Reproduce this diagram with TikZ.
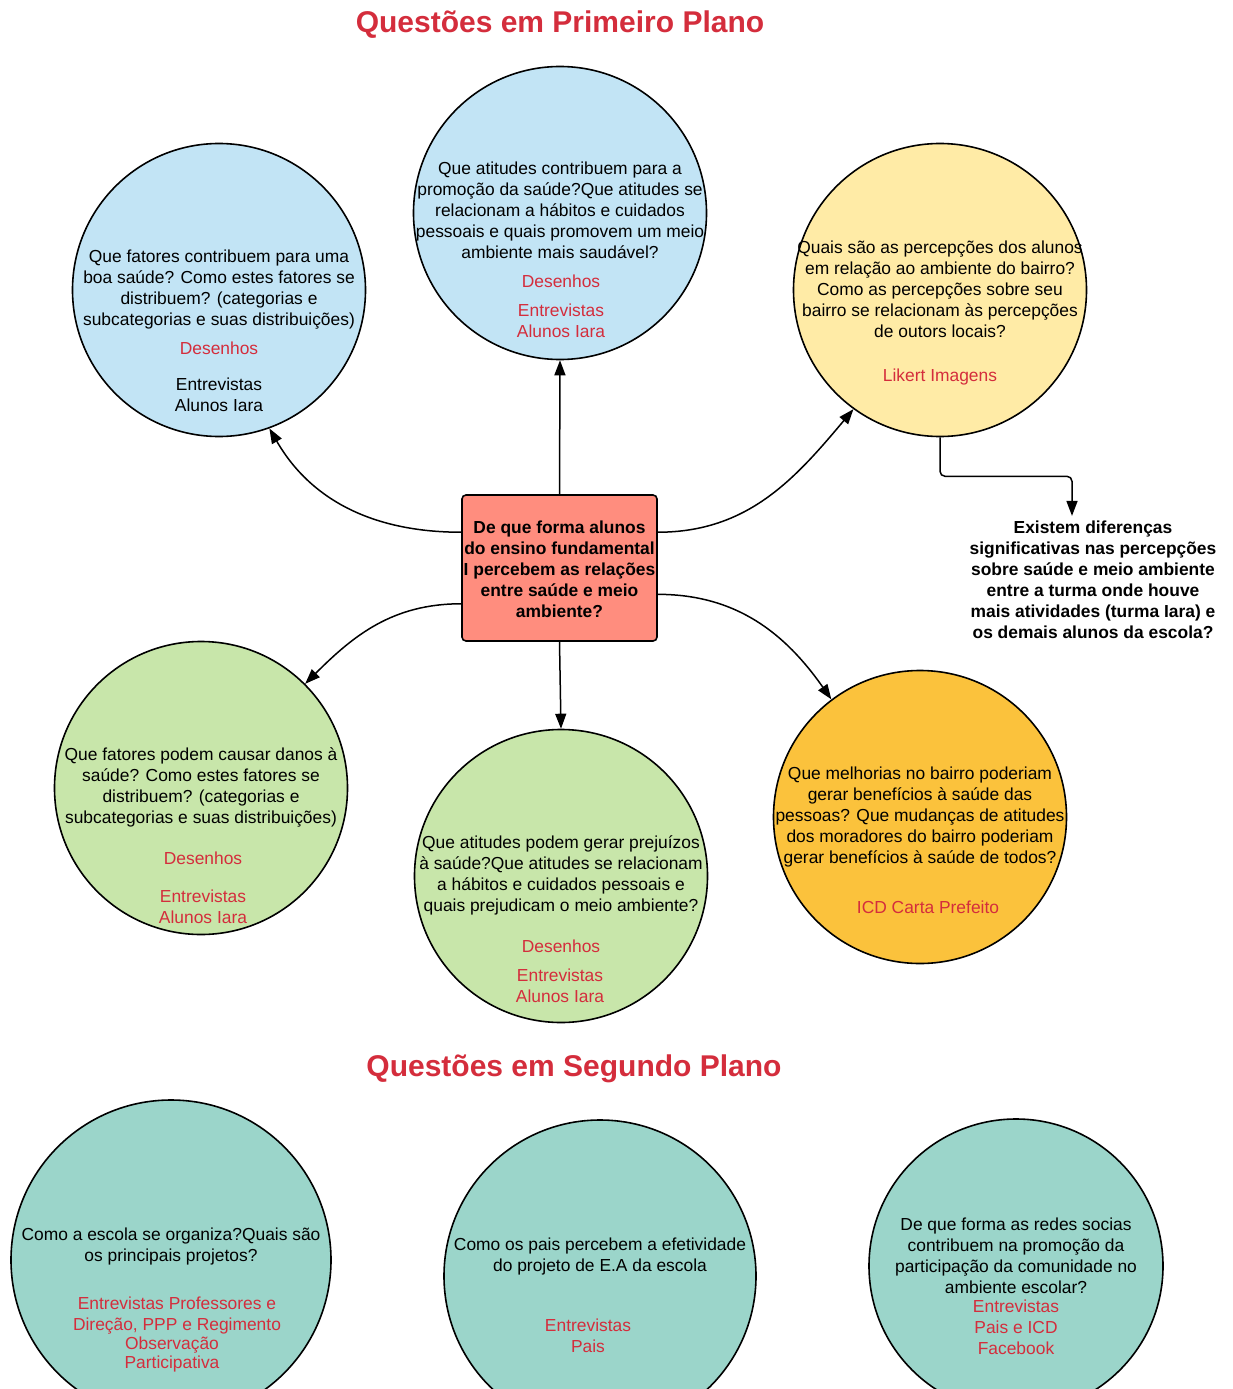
\documentclass[tikz,border=0pt]{standalone}
\usepackage{fontspec}
\setmainfont{Liberation Sans}
\usetikzlibrary{arrows.meta}
\definecolor{qblue}{RGB}{194,228,245}
\definecolor{qyellow}{RGB}{255,235,166}
\definecolor{qgreen}{RGB}{200,230,170}
\definecolor{qorange}{RGB}{251,194,60}
\definecolor{qteal}{RGB}{155,213,202}
\definecolor{qsalmon}{RGB}{255,141,126}
\definecolor{qred}{RGB}{212,45,60}
\begin{document}
\begin{tikzpicture}[x=1pt, y=1pt,
  every node/.style={font=\fontsize{17.4}{21}\selectfont, align=center, inner sep=0pt},
  bubble/.style={draw, circle, line width=1.6pt, minimum size=293pt},
  src/.style={text=qred},
  title/.style={font=\fontsize{30}{34}\selectfont\bfseries, text=qred},
  link/.style={line width=1.5pt, -{Triangle[length=15pt,width=11pt]}}]
  \useasboundingbox (0,0) rectangle (1233,-1389);

  % Titles
  \node[title] (T1) at (560,-25) {Questões em Primeiro Plano};
  \node[title] (T2) at (574,-1069) {Questões em Segundo Plano};

  % Central question
  \node[draw, fill=qsalmon, line width=1.6pt, rounded corners=4pt, minimum width=195pt, minimum height=146pt,
        font=\fontsize{17.4}{21}\selectfont\bfseries] (C) at (559.5,-568) {};
  \node[font=\fontsize{17.4}{21}\selectfont\bfseries] (Ct) at (559.5,-569)
    {De que forma alunos\\do ensino fundamental\\I percebem as relações\\entre saúde e meio\\ambiente?};

  % First plan bubbles
  \node[bubble, fill=qblue] (Q1) at (219,-290) {};
  \node[bubble, fill=qblue] (Q2) at (560,-213) {};
  \node[bubble, fill=qyellow] (Q3) at (940,-290) {};
  \node[bubble, fill=qgreen] (Q4) at (201,-788) {};
  \node[bubble, fill=qgreen] (Q5) at (561,-876) {};
  \node[bubble, fill=qorange] (Q6) at (920,-817) {};

  % Texts of the first plan
  \node (Q1q) at (219,-290) {Que fatores contribuem para uma\\boa saúde? Como estes fatores se\\distribuem? (categorias e\\subcategorias e suas distribuições)};
  \node[src] (Q1d) at (219,-348) {Desenhos};
  \node (Q1e) at (219,-394.5) {Entrevistas\\Alunos Iara};

  \node (Q2q) at (560,-210) {Que atitudes contribuem para a\\promoção da saúde?Que atitudes se\\relacionam a hábitos e cuidados\\pessoais e quais promovem um meio\\ambiente mais saudável?};
  \node[src] (Q2d) at (561,-281) {Desenhos};
  \node[src] (Q2e) at (561,-320.5) {Entrevistas\\Alunos Iara};

  \node (Q3q) at (940,-289) {Quais são as percepções dos alunos\\em relação ao ambiente do bairro?\\Como as percepções sobre seu\\bairro se relacionam às percepções\\de outors locais?};
  \node[src] (Q3s) at (940,-377) {Likert Imagens};

  \node (Q4q) at (201,-787.5) {Que fatores podem causar danos à\\saúde? Como estes fatores se\\distribuem? (categorias e\\subcategorias e suas distribuições)};
  \node[src] (Q4d) at (203,-858) {Desenhos};
  \node[src] (Q4e) at (203,-906.5) {Entrevistas\\Alunos Iara};

  \node (Q5q) at (561,-875.5) {Que atitudes podem gerar prejuízos\\à saúde?Que atitudes se relacionam\\a hábitos e cuidados pessoais e\\quais prejudicam o meio ambiente?};
  \node[src] (Q5d) at (561,-946) {Desenhos};
  \node[src] (Q5e) at (560,-985.5) {Entrevistas\\Alunos Iara};

  \node (Q6q) at (920,-817) {Que melhorias no bairro poderiam\\gerar benefícios à saúde das\\pessoas? Que mudanças de atitudes\\dos moradores do bairro poderiam\\gerar benefícios à saúde de todos?};
  \node[src] (Q6s) at (928,-907) {ICD Carta Prefeito};

  % Side question
  \node[font=\fontsize{17.4}{21}\selectfont\bfseries] (E) at (1093,-580)
    {Existem diferenças\\significativas nas percepções\\sobre saúde e meio ambiente\\entre a turma onde houve\\mais atividades (turma Iara) e\\os demais alunos da escola?};

  % Arrows from the central question
  \draw[link] (C.north) -- (Q2.south);
  \draw[link] (C.160) to[out=180, in=-60] (Q1.-70);
  \draw[link] (C.20) to[out=0, in=-130] (Q3.-126);
  \draw[link] (C.-160) to[out=180, in=45] (Q4.45);
  \draw[link] (C.south) -- (Q5.north);
  \draw[link] (C.-15) to[out=0, in=125] (Q6.127);
  \draw[link, rounded corners=5pt] (Q3.south) -- ++(0,-39) -| ([xshift=-21pt, yshift=5pt]E.north);

  % Second plan bubbles
  \node[bubble, fill=qteal, minimum size=320pt] (S1) at (171,-1260) {};
  \node[bubble, fill=qteal, minimum size=312pt] (S2) at (600,-1276) {};
  \node[bubble, fill=qteal, minimum size=294pt] (S3) at (1016,-1266) {};

  \node (S1q) at (171,-1246.5) {Como a escola se organiza?Quais são\\os principais projetos?};
  \node[src] (S1a) at (177,-1315.5) {Entrevistas Professores e\\Direção, PPP e Regimento};
  \node[src, font=\fontsize{17.4}{19}\selectfont] (S1b) at (172,-1354.5) {Observação\\Participativa};

  \node (S2q) at (600,-1256.5) {Como os pais percebem a efetividade\\do projeto de E.A da escola};
  \node[src] (S2s) at (588,-1335.5) {Entrevistas\\Pais};

  \node (S3q) at (1016,-1255.5) {De que forma as redes socias\\contribuem na promoção da\\participação da comunidade no\\ambiente escolar?};
  \node[src] (S3s) at (1016,-1327) {Entrevistas\\Pais e ICD\\Facebook};
\end{tikzpicture}
\end{document}
